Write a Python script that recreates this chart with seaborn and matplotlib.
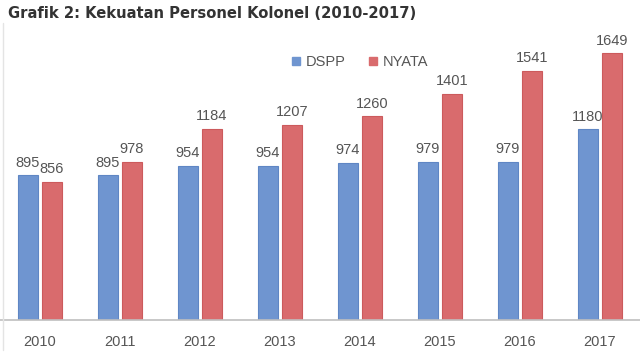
import matplotlib
matplotlib.use("Agg")
import matplotlib.pyplot as plt
import seaborn as sns
import pandas as pd
from matplotlib.lines import Line2D

years = ["2010", "2011", "2012", "2013", "2014", "2015", "2016", "2017"]
dspp = [895, 895, 954, 954, 974, 979, 979, 1180]
nyata = [856, 978, 1184, 1207, 1260, 1401, 1541, 1649]
series = ["DSPP", "NYATA"]
title = "Grafik 2: Kekuatan Personel Kolonel (2010-2017)"

df = pd.DataFrame({
    "Tahun": years * 2,
    "Nilai": dspp + nyata,
    "Seri": [series[0]] * len(years) + [series[1]] * len(years),
})

sns.set_style("white")
plt.rcParams["font.family"] = ["Liberation Sans", "DejaVu Sans"]

colors = {"DSPP": "#6f95d0", "NYATA": "#d96b6d"}
edges = {"DSPP": "#5f86c4", "NYATA": "#cc5a5c"}

fig = plt.figure(figsize=(6.4, 3.58), dpi=100)
ax = fig.add_axes([0.0, 38 / 358, 1.0, 291 / 358])

sns.barplot(data=df, x="Tahun", y="Nilai", hue="Seri", order=years,
            hue_order=series, palette=colors, width=0.6, gap=0.2,
            saturation=1, legend=False, ax=ax)

for cont, s in zip(ax.containers, series):
    for bar in cont:
        bar.set_edgecolor(edges[s])
        bar.set_linewidth(0.8)
    ax.bar_label(cont, fmt="%d", padding=4, fontsize=10.5, color="#555555")

ax.set_xlim(-0.5, 7.5)
ax.set_ylim(0, 1800)
ax.set_xlabel("")
ax.set_ylabel("")
ax.set_yticks([])
ax.tick_params(axis="x", length=0, labelsize=10.5, labelcolor="#555555", pad=11)
for side in ["top", "right", "left"]:
    ax.spines[side].set_visible(False)
ax.spines["bottom"].set_color("#bfbfbf")
ax.spines["bottom"].set_linewidth(1.2)

handles = [Line2D([], [], marker="s", linestyle="", markersize=6,
                  markerfacecolor=colors[s], markeredgecolor=colors[s]) for s in series]
leg = ax.legend(handles, series, loc="center", bbox_to_anchor=(358 / 640, (320 - 62) / 291),
                ncol=2, frameon=False, fontsize=10.5, handletextpad=0.05,
                handlelength=1.2, columnspacing=1.3, labelcolor="#555555")

fig.add_artist(Line2D([3 / 640, 3 / 640], [8 / 358, 335 / 358], color="#e4e4e4",
                      linewidth=1, transform=fig.transFigure))

fig.text(8 / 640, 1 - 13 / 358, title, fontsize=10.6, fontweight="bold",
         color="#333333", va="center", ha="left", family=["DejaVu Sans"])

fig.savefig("out.png", dpi=100, facecolor="white")
